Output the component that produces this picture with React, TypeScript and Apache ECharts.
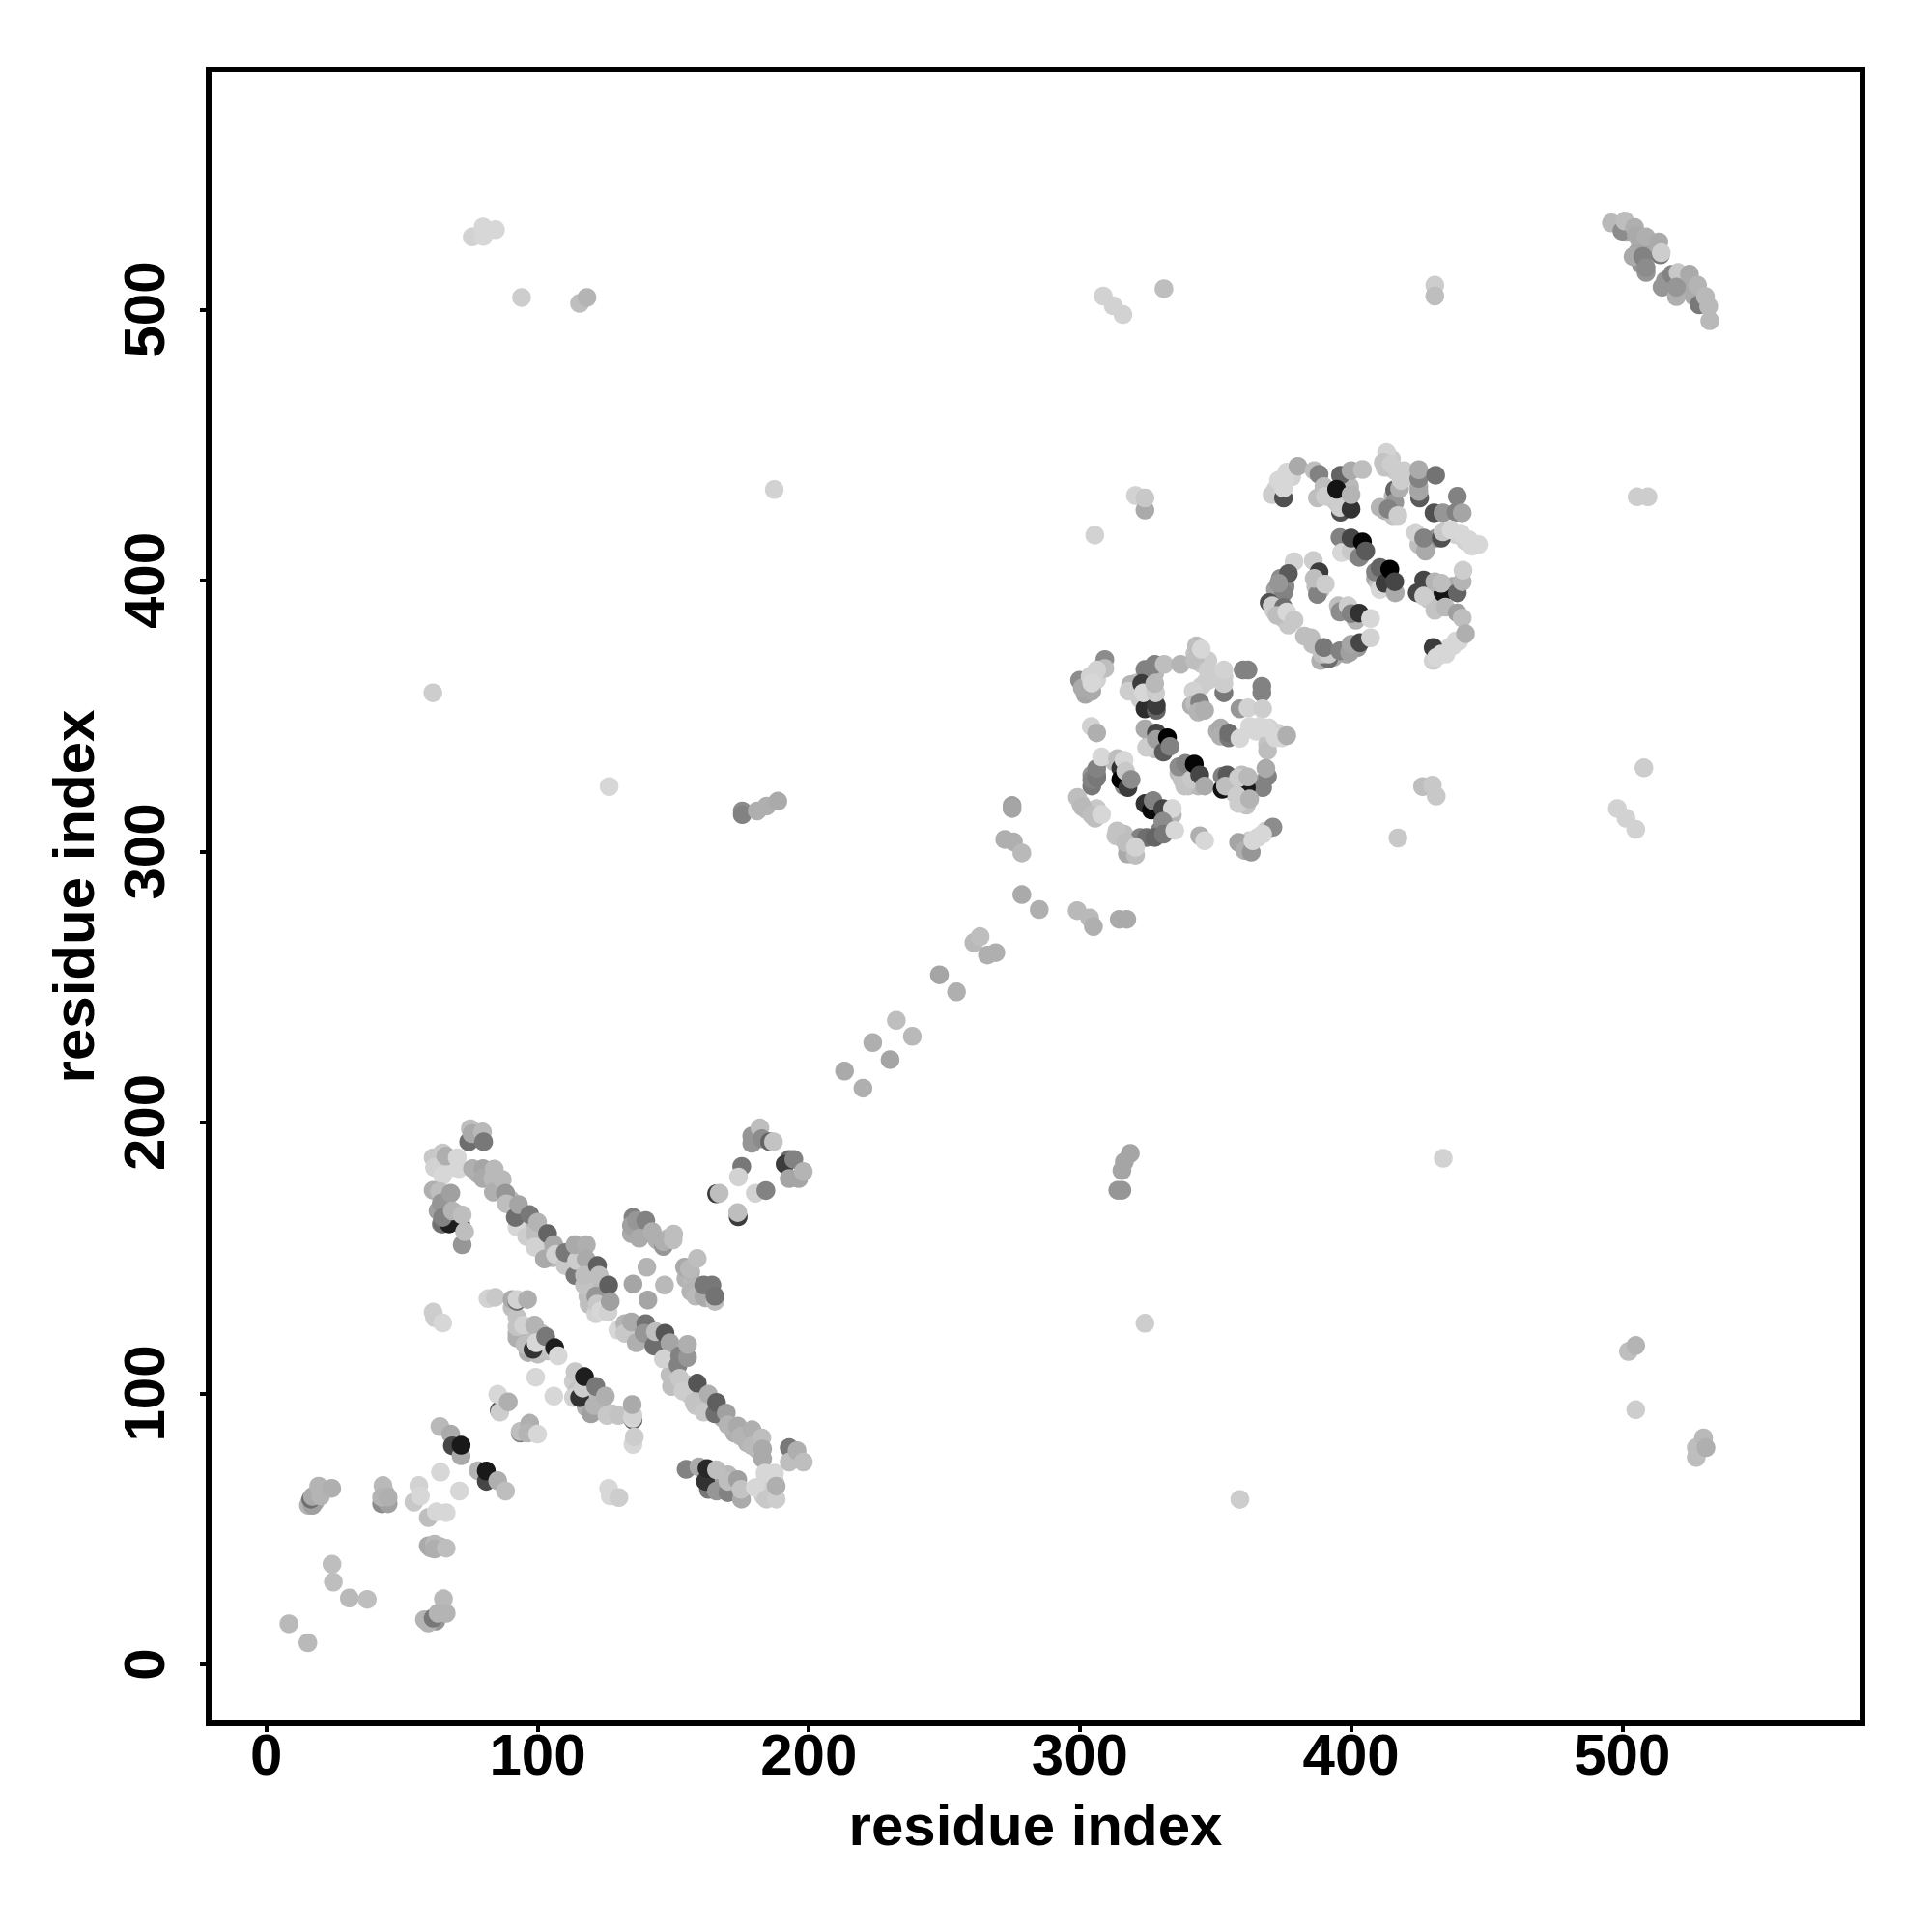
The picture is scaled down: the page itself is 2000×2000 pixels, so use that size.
import React, { useEffect, useRef } from "react";
import * as echarts from "echarts";

// Each contact: [residue x, residue y, grey level]
const tickValues = [0, 100, 200, 300, 400, 500];
const axisTitle = "residue index";

const hiddenBehindArms = [
  [78.1,181,175],[81.7,180.4,180],[85.8,175.7,180],[90,171.5,185],[94.2,166.2,170],[94.8,162.6,190],[97.7,162.6,185],[101.3,156.7,190],[101.3,153.1,200],[104.3,154.3,190],[105.5,150.1,185],[108.4,150.7,200],[112,150.7,190],[112.6,146,170],[116.1,146,190],[119.7,146,160],[119.1,140,180],[121.5,140,185],[122.7,132.9,200],[125,134,190],[119,132.9,190],[121.5,129.4,210],
  [134.6,122.2,190],[136.9,121,185],[141.7,121,175],[145.2,118.7,180],[147.6,115.1,190],[150,110.4,190],[148.8,106.8,190],[151.2,104.4,200],[155.3,103.2,195],[155.9,99.7,200],[160.7,99.7,190],[158.3,95.5,200],[163,94.9,190],[168.4,90.8,170],[172.6,85.4,175],[177.3,84.2,180],[180.9,79.5,180],[177.3,81.8,180],
  [165.4,67.6,160],[170.2,70,185],[172.6,65.8,180],[182,65.2,210],[185.6,64,205],[183.9,67.6,210],[187.4,67.6,205],[183.3,62.2,205],
  [90.6,131.7,190],[92.4,128.2,195],[92.4,122.2,185],[95.9,121,190],[96.5,115.1,175],[100.1,114.5,190],[103.7,115.7,195],[101.3,122.2,190],
  [113.2,104.4,205],[114.4,100.9,195],[117.9,98.5,175],[117.9,94.9,175],[122.7,93.7,190],[122.7,97.3,185],[127.4,92.5,195],[120.3,99.7,185],
  [64.5,173.3,170],[63.3,167.4,160],[66.2,168.6,170],[64.5,162.6,130],[70.4,166.2,170],[63.3,184,205],[66.8,184,210],[69.2,183.4,215],
  [134.6,159,170],[139.3,159,175],[136.9,160.8,170],[144,156.7,175],[148.2,157.3,185],[154.7,142.4,180],[157.1,141.2,185],[156.5,144.8,180],[161.9,135.3,175],
  [16,60,170],[18,60,175],[43.5,60.5,170],[44,63,180],[60.5,43,175],[64,43.5,180],[60.5,16.5,170],[62.5,16,150],
];

const hiddenBehindHelices = [
  [302,362.2,205],[306.2,363.4,210],[308,368.1,200],
  [321,362.2,195],[325.8,364.6,180],[324.6,356.3,200],[322.2,356.3,205],[327.6,356.3,195],[327.6,365.8,185],
  [342.4,372.9,195],[344.8,369.3,200],[347.2,370.5,205],[347.8,363.4,205],[344.8,361,205],[353.1,364.6,205],
  [344.8,353.3,175],[341.2,353.9,175],
  [367.4,344.4,210],[369.8,345.6,210],[372.7,343.8,210],[365,344.4,215],[369.2,339.6,195],
  [352.5,343.8,165],[350.7,344.4,175],
  [326.4,340.8,170],[327.6,337.9,190],[330,338.4,170],
  [336.5,328.9,190],[337.7,326.6,195],[340,324.2,195],[343.6,324.2,185],
  [355.5,324.2,195],[356.7,321.8,205],[360.2,320.6,200],[361.4,317.1,195],[356.7,326.6,200],[363.8,325.4,170],[365.6,324.2,150],[359.7,328.3,190],
  [306.2,328.3,135],[304.4,328.3,150],[312.7,333.1,190],[316.3,324.2,140],
  [300.3,317.7,185],[302.6,315.3,190],[305.6,312.3,190],[306.2,315.9,200],
  [315.1,305.2,190],[317.5,301.6,195],[318.7,299.2,180],[316.3,306.4,190],
  [322.2,305.2,130],[329.4,307.6,130],[331.1,312.3,150],[334.1,313.5,180],
  [360.2,302.8,190],[362.6,304,205],[365.6,305.2,210],[368.6,307.6,205],
  [372.1,433.5,210],[378.1,438.3,210],[375.7,437,215],[373.9,433.5,215],
  [390.5,432.3,195],[392.9,430.5,200],[394.7,428.8,200],[398.9,428.8,190],[399.5,434.7,185],[397.7,426.4,190],
  [414.9,444.8,200],[416.1,440.6,200],[412.5,441.8,195],[419.6,440.6,205],[412.5,425.8,180],[415.5,424,195],[415.5,431.1,180],
  [425,434.7,170],[425,413.3,190],[428,413.3,190],[431.5,415.7,150],[438.7,416.9,210],[442.2,414.5,210],[444.6,412.7,215],
  [398.9,412.1,180],[403.6,409.2,150],[401.8,409.7,170],
  [409,400.8,170],[410.1,399,195],[415.5,397.3,180],
  [373.9,400.8,140],[375.7,397.9,140],[372.1,396.7,160],[387,397.9,190],[388.8,396.7,200],
  [426.8,396.7,190],[428.6,393.1,200],[430.9,391.9,205],[428.6,397.9,180],[432.7,390.7,195],[437.5,397.9,170],
  [371.5,389,205],[375.1,386,195],[376.9,383.6,200],[373.3,389,200],
  [395.3,390.7,190],[396.5,389,170],[401.8,385.4,180],
  [382.8,379.5,190],[385.8,376.5,195],[388.8,370.5,175],[393.5,371.7,170],[402.4,375.3,150],[398.3,372.9,165],
  [433.3,374.1,215],[436.3,375.3,215],[438.7,377.7,215],[430.3,370.5,210],[435,372.9,215],
  [501.6,528.5,170],[506.4,525.6,170],[508.8,522,160],[512.3,520.8,170],[505.8,521.4,165],[507,516.7,150],
  [521.8,509.5,170],[524.2,507.2,170],[527.8,504.8,175],[530.2,502.4,180],[515.9,510.7,150],
];

const originContacts = [
  [8.3,15,185],[15.3,8,185],[24.2,37,190],[24.7,30.4,190],[30.6,24.5,185],[37.2,24,190],
  [15.5,58.7,180],[17,58.7,160],[16.4,61,110],[17,62,170],[19.3,65.8,180],[20,62.2,180],[24.1,65,175],
  [42.5,59.3,140],[44.9,59.3,160],[43,66,185],[42.5,61.7,180],[44.9,61.7,175],
  [54.4,59.9,200],[56.2,66,210],[56.8,62.2,215],[59.7,54.2,190],[62.7,56.3,215],[66.3,56,215],
  [59.7,43.8,170],[62,44.4,185],[62,42.6,175],[66.3,42.9,190],
  [65.3,24.2,185],[58.3,16.5,180],[59.7,15.3,180],[61.5,17.1,120],[63.3,18.9,180],[66.3,18.9,180],
  [64.2,71,215],[71.2,64,215],
  [64,87.8,185],[68,85,170],[68.6,80.7,70],[71.8,77,170],[71.8,80.9,25],
  [78.1,71.5,180],[81.1,67.6,70],[81.1,71.4,25],[85.3,67.8,175],[88.2,64,190],
  [126.2,65,215],[126.8,62.2,215],[130,61.6,205],
];

const upperArm = [
  [74.6,192.9,110],[75.2,197.7,190],[75.8,195.9,170],[79.7,196.5,185],[80.1,192.9,120],
  [61.5,187,200],[62,183.4,210],[65,188.8,200],[66.2,187.6,175],[65,180.4,215],[70.4,187,215],[71,183,215],
  [72.2,154.9,150],[65,162.6,110],[67.4,162.6,30],[71.6,162.6,30],[61.5,175,175],[63.9,174.5,190],[64.5,170.3,150],[68,173.9,160],[65,165,130],[68.6,167.4,180],[72.2,165.9,190],[73.1,159.7,190],
  [76,183,175],[79.9,183,165],[79.9,179.3,170],[84,182.8,185],[83.5,179.3,185],[83.7,174.3,175],[87,179,185],[88.2,173.9,150],[88.5,170,190],
  [92.4,161.4,215],[91.8,165,110],[93,169.7,165],[96,157.9,205],[97.1,166,120],[99,159,190],[100,163.2,180],[99,154,210],[103.7,159,100],
  [102.5,149.6,170],[106,154.9,170],[106.6,151.3,210],[110.2,147.2,200],[110.2,152,120],[113.8,143.6,120],[114.4,149,205],[113.8,154.9,170],[118,154.9,175],[117.9,149.6,170],
  [118.5,135.9,190],[117.3,140,195],[117.3,143.6,190],[121.5,135.9,150],[122.1,147.2,95],[122.7,143.6,190],[126.2,140,95],[122,133,200],[123.3,130.5,215],[126,130,210],[126.8,133.9,160],
];

const lowerArm = [
  [129.6,123.4,215],[132.2,125.8,180],[132.2,122.2,200],[136.4,118.7,175],[134.6,126.4,170],[139.9,125.8,115],[139.3,122.2,150],[142.9,117.5,110],[143.5,122.8,190],[147,122.2,85],[148.8,118.7,165],
  [146.4,112.7,210],[152.4,113.9,130],[151.8,110.4,130],[155.3,113.3,150],[155.3,118.1,175],
  [149.4,102.6,190],[152.4,105.6,200],[153.6,100.9,205],[158.9,103.8,85],[157.7,96.7,195],[161.3,93.1,200],[163,99.7,175],[165.4,92.5,110],[166,96.7,95],[169.6,92.8,160],
  [170.2,88.4,180],[173.8,88,170],[175,84.2,180],[179.1,86.6,175],[179.1,80.7,185],[182.7,83.6,190],[183,75.9,170],[183,79.5,170],
  [154.8,72,130],[159.5,72.9,170],[163,64.6,120],[161.9,67.6,50],[162.5,72.3,40],[166,64,150],[166,71.8,190],[170.2,63.4,130],[170.2,67.6,190],[173.8,68.2,160],[175.2,61,170],[175,64.6,195],
  [180.3,65.2,215],[183.9,70.6,215],[187.4,70.6,215],[184.4,61,200],[188,61,205],[188,65.8,175],
  [192.8,80,120],[192.8,74.7,190],[195.7,78.9,175],[198,74.7,190],
];

const crossFill = [
  [135.2,165,130],[134.6,162,160],[136.4,163.8,150],[139.9,163.8,130],[137.5,157.3,170],[142.3,159.7,175],[146.4,154.3,150],[146.4,156,175],[150.2,158.8,190],[150,156.7,190],
  [140.3,146.6,180],[135.2,140.4,165],[146.8,140,185],[140.7,134.5,165],
  [154.2,146.6,170],[156,146,185],[158.9,149.8,190],[156.5,137.7,180],[158.3,135.9,185],[161.3,135.9,170],[161.3,140,120],[164.3,140,120],[165.4,134,190],[165.4,135.9,115],
  [81.7,135,210],[84.4,135.5,200],[90.6,134.7,170],[92.4,134,110],[92.4,134.7,210],[96.3,134.7,175],
  [92.4,120.5,175],[92.4,124.6,195],[94.8,125.2,210],[98.9,125.2,180],[95.4,118,190],[98.3,116.3,50],[99.5,118.7,215],[103,121,120],[106.3,116.9,30],[107.6,113.9,215],
  [99.3,106,215],[106,99,215],[113.2,98.5,210],[113.8,108,200],[115.5,98.5,50],[116.7,102,205],[117.3,106.2,30],[121.5,102.6,120],[119.7,92.5,160],[120.9,95.5,180],[125,99,175],[125.6,91.9,200],[129.8,91.9,195],
  [135.2,90.2,100],[135,90.9,215],[135.2,92,210],[134.9,95.9,170],[135.2,81.2,215],[135.7,84,205],
  [85.9,93.7,80],[86.1,93.1,205],[85.3,99.7,215],[89.2,96.9,175],[93.6,85.4,130],[93.6,86,190],[97.1,89,175],[96.3,85.4,180],[100,85,215],
  [61.5,130,205],[62,128,205],[65,126,215],
];

const upperBlock = [
  [179,195,150],[179,192.3,150],[182,198,190],[182.7,194,140],[185.6,192.9,100],[187,192.9,195],
  [192.8,186.4,110],[191.3,184.6,60],[194.5,186.4,130],[192.8,179.3,165],[196.3,179.3,165],[198,181.9,180],
  [175.3,183.8,120],[174.1,179.9,210],[166,173.7,60],[167,173.9,190],[180.3,173.9,210],[184.2,174.9,130],[174,165.2,60],[173.8,166.8,190],
];

const scattered = [
  [75.9,526.8,210],[79.9,530.5,215],[80,527,215],[84.5,529.5,215],[94.1,504.5,205],[115.5,502.3,190],[118.2,504.5,180],
  [187.3,433.6,210],[61.4,358.6,205],[126.4,324,215],[175.5,315,140],[175.5,313.6,130],[181,315,175],[184.5,316.8,175],[188.6,318.6,170],
  [213.2,219,170],[220,212.7,175],[223.6,229.5,175],[230,223.2,165],[232.3,237.7,190],[238.2,231.8,185],[248.2,254.5,165],[254.5,248.2,175],
  [260.9,266.4,185],[263.2,268.6,190],[265.9,261.8,175],[269,262.7,175],[275,317,160],[275,315.9,165],[278.6,284.1,170],[285,278.6,175],
  [272.3,304.5,175],[275.5,303.6,175],[278.6,299.5,185],[299,278.2,185],[303.6,275.5,185],[305,272.3,175],[314.5,275,170],[317.3,275,170],
  [308.6,505,210],[312.3,501.4,210],[315.9,498.2,210],[331,507.7,190],[430.9,509,205],[430.9,505,190],
  [505.5,430.9,205],[509.5,430.9,205],[434,186.8,210],[324,125.9,205],[359,60.9,205],[508,330.9,205],
  [498.2,315.9,210],[501.4,312.3,210],[505,308.2,210],[417.3,305,200],[426.4,324,190],[430,324.5,200],[431.4,320.5,200],
  [318.6,188.6,165],[316.4,185.5,165],[315.5,182.3,165],[314,175,150],[315.5,175,150],
  [502.3,115.5,190],[505,117.7,180],[505,94,205],[527.3,76.4,190],[527.3,80,190],[530,83.6,185],[530.9,80,175],
  [305.5,416.8,210],[320.5,431.4,210],[324,426,170],[324,430.5,200],
];

const cornerBlock = [
  [496,532,185],[499.9,529,140],[501,532.7,190],[504.6,530.3,175],[505.2,527.4,170],[508.8,526.8,175],[514.1,520.2,120],[513.5,525,170],
  [504,519.6,170],[507.6,519.6,130],[508.8,513.7,150],[508.8,515.5,140],[514.4,521,205],
  [514.7,508.3,150],[518.3,513,130],[520.6,513.7,200],[520,504.8,175],[520,508.3,150],[524.8,513.1,170],[526.6,504.8,170],[528.4,501.8,120],[527.8,509,180],[530.7,504.8,185],[531.9,501.2,185],[532.3,495.9,185],
];

const helixBlockA = [
  [299.9,363.2,140],[302,358,165],[300.9,360.4,170],[304.4,359.2,170],[309.2,370.9,140],[309.2,367.6,190],[303.8,364.6,210],[306.2,367,210],[304.4,362.2,215],
  [324,367.2,130],[327.6,369.1,130],[331.1,369.1,190],[318.7,361.6,180],[318,359.2,205],[322.8,362,60],[324,352.7,45],[323.4,358.6,215],[328.2,352.1,100],[328.2,353.9,60],[327.9,358.6,205],[327.6,362,185],[337.1,369.1,180],
  [343,375.9,190],[342.4,370.5,190],[344.8,374.7,215],[353.1,358.6,120],[347.2,367,205],[346.6,362.8,205],[341.8,359.2,210],[353.1,362,205],[353.1,367,210],[360.2,367,130],[362,367,130],[367.1,361,130],[367.1,358.6,130],
  [342.4,354.5,190],[344.2,355.1,130],[343.6,351.5,180],[346,352.1,175],[359,352.7,150],[362,353,210],[367.4,352.7,205],
  [304.2,346.2,210],[306.2,343.8,175],
  [324,345.3,170],[324.6,338.4,205],[328.2,343.8,70],[328.2,341.4,160],[330.8,336.7,90],[332.3,342,0],[333.2,338.8,130],
  [351.9,345.6,170],[351.9,342.6,175],[354.9,342,120],[354.9,343.8,110],[359,341.8,215],[369.2,337.3,190],[362.6,346.2,215],[366.2,346.2,215],[368.6,345.6,215],[372.1,342,215],[374.5,342,215],[376.3,342.8,175],
  [304.4,324.2,120],[304.4,326.6,130],[306.2,327.2,120],[306.2,330.7,130],[308,334.9,215],[313.9,334.3,190],[315.1,330.7,50],[315.1,326.6,0],[317.7,323.6,60],[316.3,333.7,215],[316.9,329.6,200],[318.9,326.6,140],
  [336.5,331.3,140],[338.9,332.5,130],[338.6,324.2,195],[341.2,326.6,200],[342.2,332.3,5],[344.2,328.3,70],[346,324.2,170],
  [367.4,323.6,130],[369.2,327.8,130],[368.6,330.7,170],[352.5,323,20],[352.5,327.8,130],[354.3,328.3,90],[353.7,324.2,190],[361.4,323.6,25],[358.5,327.2,205],[362,327.5,185],[357.9,320.6,205],[358.5,317.7,205],[362.6,319.4,180],
  [299.1,320,190],[300.9,316.5,185],[304.4,313.5,190],[308,313.7,215],
  [324,317.7,50],[326.4,315.3,10],[327,318.8,130],[330.6,315.9,70],[334.1,315.9,215],[330.6,311.1,140],[324.6,305.2,110],[327.6,305.2,100],[330.8,306.4,120],[335,307.8,215],
  [313.7,307.6,195],[313.3,305.8,195],[317.5,299.2,170],[316.9,303.4,190],[320.5,298.7,190],[320.5,301.6,210],
  [344.2,305.8,175],[346,304,215],[358.5,303.4,165],[360.8,300.4,175],[363.2,299.8,150],[371.2,309,140],[363.8,304,215],[367.4,306.4,215],
];

const helixBlockB = [
  [370.9,431.7,205],[375.1,430.5,80],[375.1,434.1,215],[373.3,437,215],[376.3,440,215],[380.4,442.2,170],[386.4,440.6,190],[388.2,439.2,130],[387.6,430.5,190],[390,434.7,190],[390.5,431.1,205],
  [396.1,425.2,80],[395.9,427,205],[396.1,438.9,100],[394.7,433.7,20],[400,426.4,50],[400,431.7,180],[400,440.6,170],[404.2,441,190],
  [416.1,433.5,100],[416.1,428.8,150],[410.7,427,180],[413.7,426.4,130],[417.3,424,205],[417.9,434,175],[413.1,447.2,210],[411.9,443.6,195],[414.9,443,205],[417.3,440,205],[418.5,437,205],
  [425.3,430.5,90],[425,432.9,165],[425,437.7,130],[425,440.9,170],[431.2,438.9,115],[439.2,431.1,130],[430.6,425,80],[433.9,425,150],[438.7,425.2,130],[441,425,165],
  [423.8,417.7,210],[427.4,410.9,170],[426.8,415.7,130],[433.3,415.7,80],[433.9,418,200],[436.9,418.7,215],[440.4,417.5,215],[443.4,415.1,215],[447,413.3,215],
  [395.9,415.9,130],[396.5,410.3,215],[400,410.9,200],[403,408.6,130],[400,415.7,70],[404.2,414.3,5],[405.4,410.9,90],
  [409,403.2,130],[410.7,404.8,100],[410.7,396.7,215],[412.5,399,60],[414.3,404.2,0],[416.3,395.5,170],[416.1,399.6,70],
  [379,407,210],[376.9,402.6,90],[375.1,395.5,130],[373.3,399,150],[386.1,407.4,205],[387.6,394.9,130],[388.2,403.2,60],[386.4,400.8,190],[390.5,398.7,205],
  [424.4,395.5,70],[426.8,400.2,70],[426.8,394.3,205],[433.9,395.5,20],[430.9,399.6,180],[433.3,399,190],[439.2,395.5,100],[441,399.6,180],[441.3,403.8,205],
  [430.9,389,195],[434.8,390.2,185],[439.2,388.1,160],[441,386.2,190],
  [369.8,391.9,80],[370.9,390.7,205],[375.1,390.1,110],[372.7,387.2,190],[376.3,388.4,215],[379,385.4,200],
  [395.9,388.4,140],[398.9,390.7,205],[400,387.8,130],[403,388,50],[407.2,386,215],
  [385.2,378.9,190],[386.4,376.5,190],[391.7,371.1,110],[389.4,372.9,190],[391.7,372.9,205],[390,375.3,120],[395.9,374.1,130],[399.5,373.5,160],[400,376.5,165],[403.3,377.1,70],[407.2,378.9,210],
  [430.3,375.3,60],[431.5,371.7,215],[433.3,372.9,215],[437.5,375.9,215],[439.8,377.7,215],[442.2,380.4,175],
];

const allContacts = [
  ...hiddenBehindArms, ...hiddenBehindHelices,
  ...originContacts, ...upperArm, ...lowerArm, ...crossFill, ...upperBlock,
  ...scattered, ...cornerBlock, ...helixBlockA, ...helixBlockB,
];

const FONT = "'Liberation Sans', Arial, Helvetica, sans-serif";

function makeAxis(min: number, max: number, rotate: number, margin: number, nameGap: number) {
  return {
    type: "value",
    min,
    max,
    name: axisTitle,
    nameLocation: "middle",
    nameGap,
    nameTextStyle: { fontFamily: FONT, fontWeight: "bold", fontSize: 60, color: "#000" },
    axisLine: { show: false, onZero: false },
    splitLine: { show: false },
    axisTick: { show: true, length: 9, lineStyle: { color: "#000", width: 4 }, customValues: tickValues },
    axisLabel: {
      show: true,
      rotate,
      margin,
      fontFamily: FONT,
      fontWeight: "bold",
      fontSize: 60,
      color: "#000",
      customValues: tickValues,
      hideOverlap: false,
    },
  };
}

export default function App() {
  const ref = useRef<HTMLDivElement>(null);
  useEffect(() => {
    if (!ref.current) return;
    const chart = echarts.init(ref.current, undefined, { renderer: "svg", width: 2000, height: 2000 });
    chart.setOption({
      animation: false,
      backgroundColor: "#fff",
      grid: {
        show: true,
        left: 216,
        top: 72,
        right: 72,
        bottom: 216,
        borderColor: "#000",
        borderWidth: 6,
        backgroundColor: "transparent",
      },
      xAxis: makeAxis(-21.3, 588.6, 0, 2, 75),
      yAxis: makeAxis(-21.75, 588.6, 90, 37, 110),
      series: [
        {
          type: "scatter",
          symbol: "circle",
          symbolSize: 19.5,
          clip: false,
          large: false,
          data: allContacts,
          itemStyle: {
            opacity: 1,
            color: (p: any) => {
              const s = p.value[2];
              return `rgb(${s},${s},${s})`;
            },
          },
        },
      ],
    });
    return () => chart.dispose();
  }, []);
  return <div ref={ref} style={{ position: "absolute", left: 0, top: 0, width: 2000, height: 2000 }} />;
}
